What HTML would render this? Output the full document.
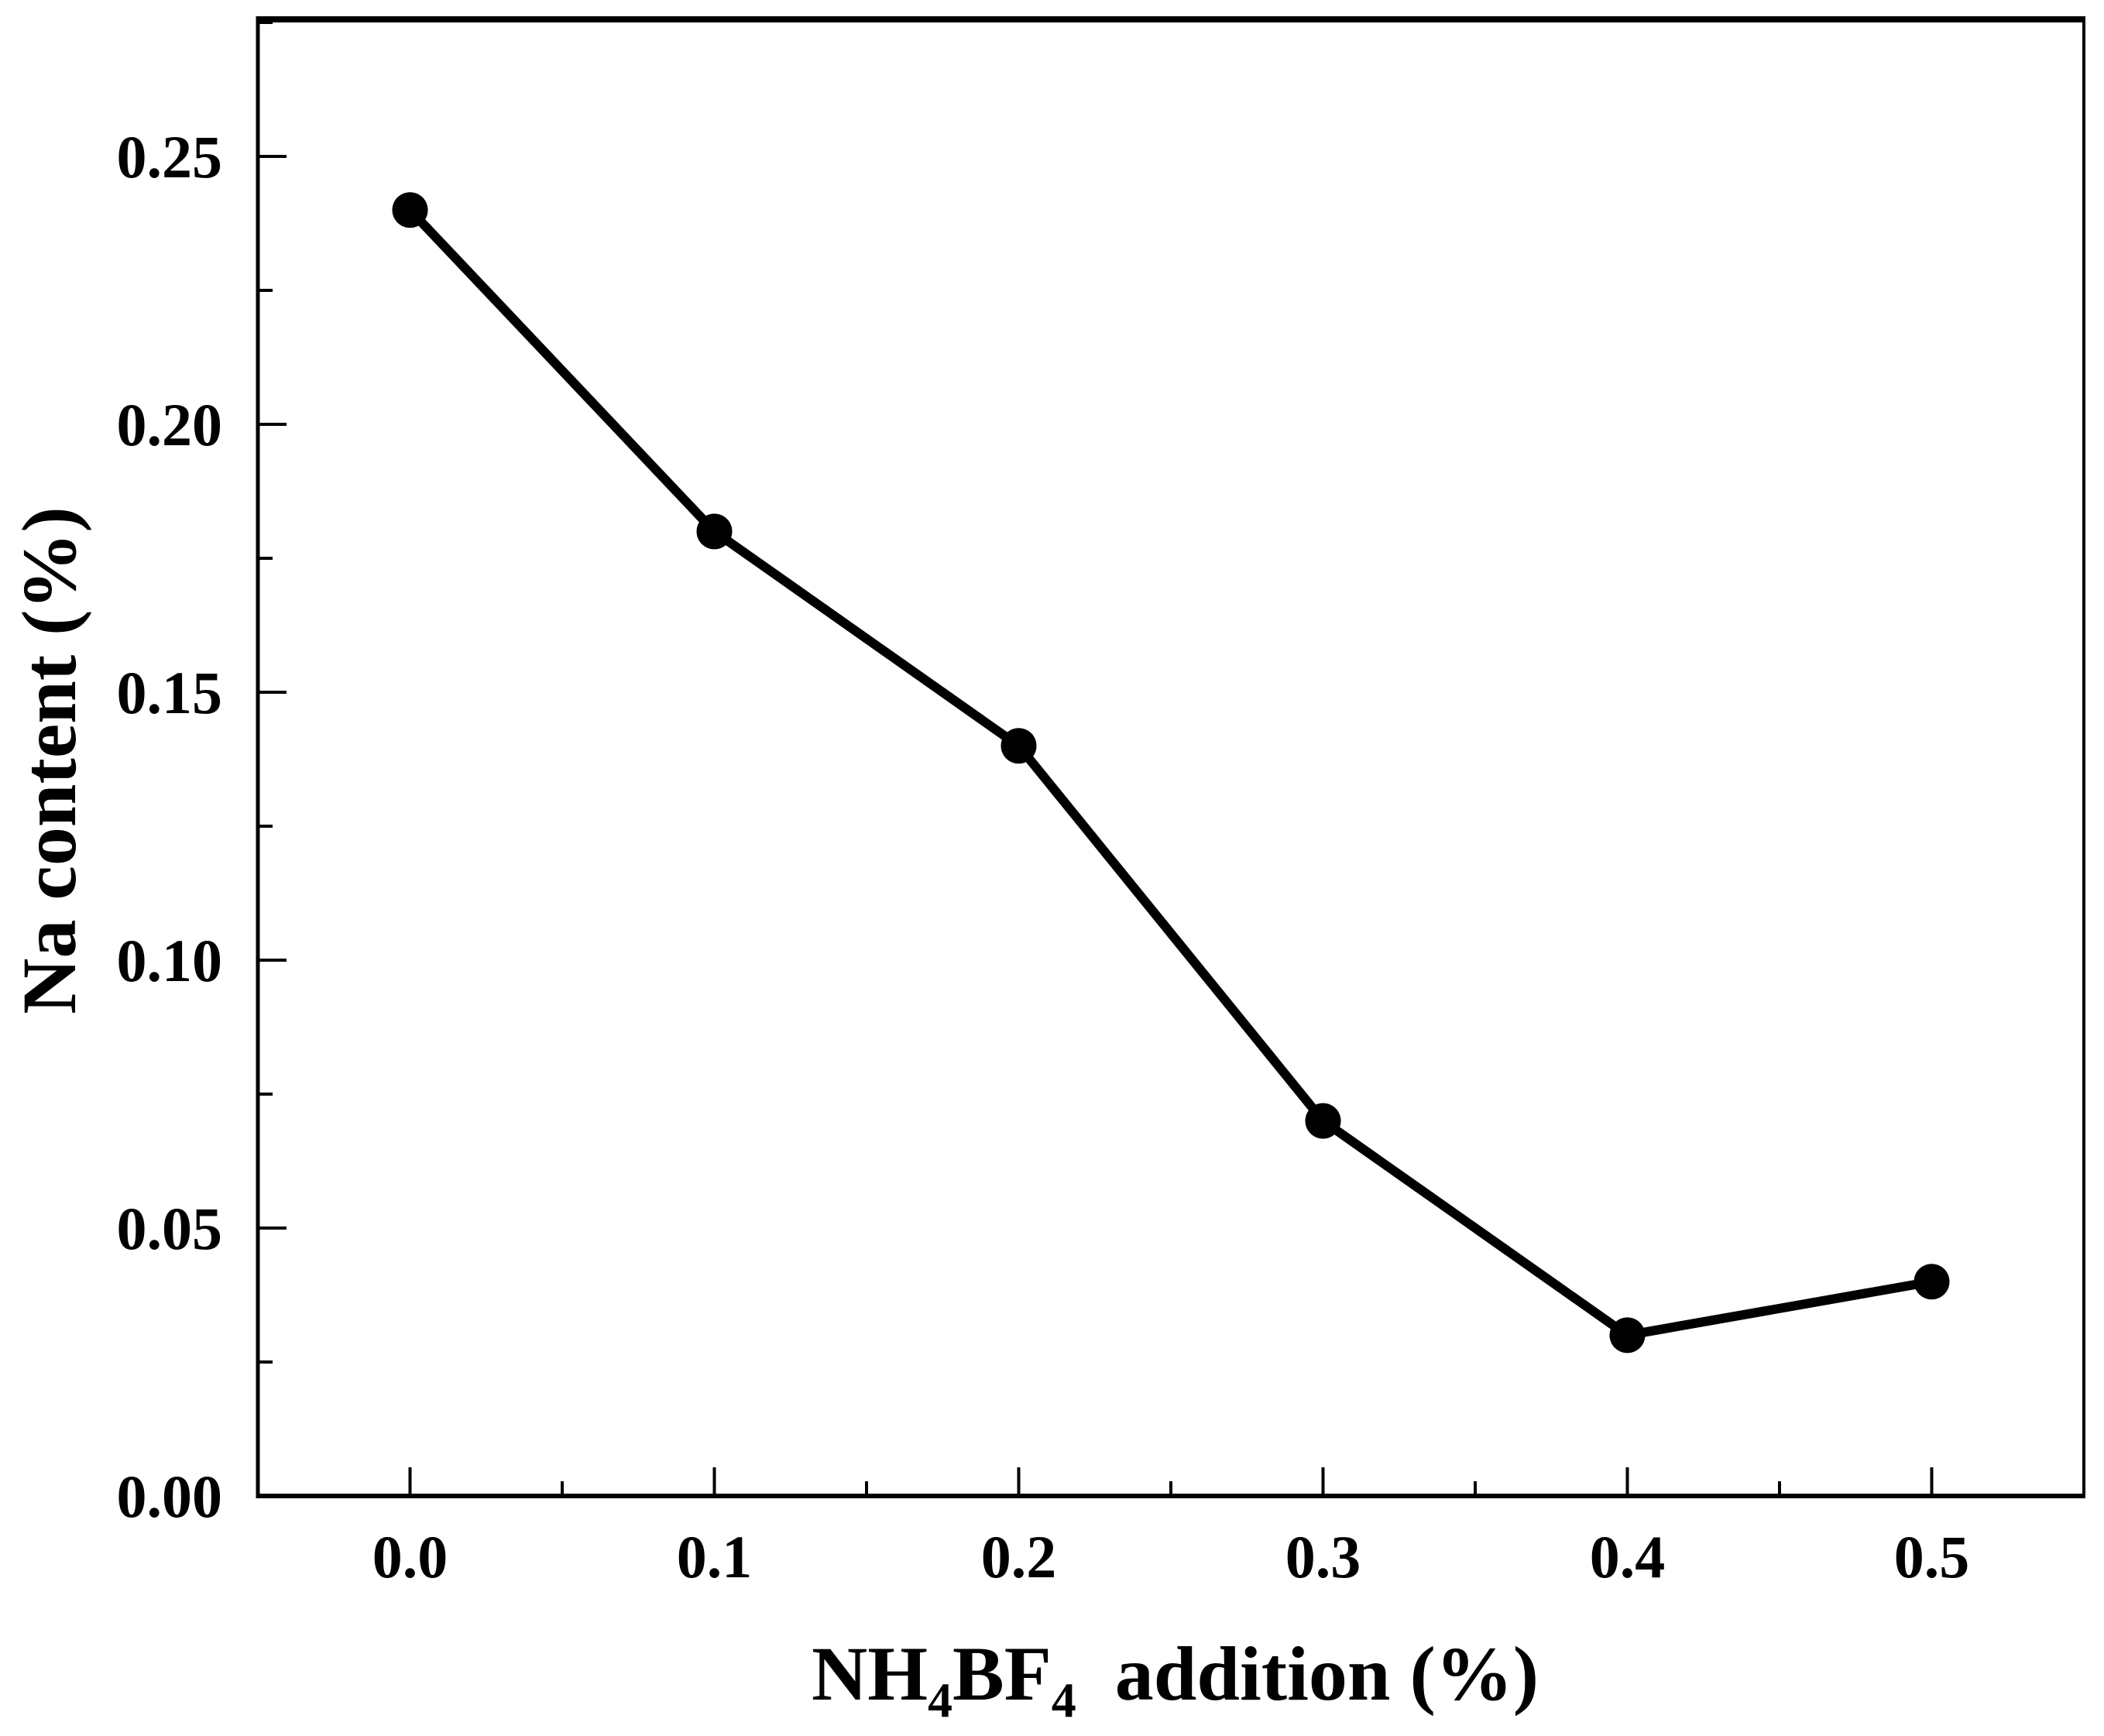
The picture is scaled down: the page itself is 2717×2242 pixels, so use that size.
<!DOCTYPE html>
<html><head><meta charset="utf-8"><style>
html,body{margin:0;padding:0;background:#fff;}
svg text{font-family:"Liberation Serif",serif;font-weight:bold;fill:#000;}
</style></head><body>
<svg width="2717" height="2237" viewBox="0 0 2717 2237">
<g id="axes"></g>
<g id="series"></g>
</svg>
<script>
const categories = [0.0, 0.1, 0.2, 0.3, 0.4, 0.5];
const naContent = [0.24, 0.18, 0.14, 0.07, 0.03, 0.04];
const xTickLabels = ["0.0", "0.1", "0.2", "0.3", "0.4", "0.5"];
const yTickLabels = ["0.00", "0.05", "0.10", "0.15", "0.20", "0.25"];
const xRange = [-0.05, 0.55];
const yRange = [0, 0.275];

const L = 333, R = 2691, T = 29, B = 1932;
const NS = "http://www.w3.org/2000/svg";
function xs(v){ return L + (v - xRange[0]) / (xRange[1] - xRange[0]) * (R - L); }
function ys(v){ return B - (v - yRange[0]) / (yRange[1] - yRange[0]) * (B - T); }
function mk(tag, attrs, parent){ const e = document.createElementNS(NS, tag); for (const k in attrs) e.setAttribute(k, attrs[k]); parent.appendChild(e); return e; }

const axes = document.getElementById('axes');
const series = document.getElementById('series');

let e;
e = mk('line', {x1:L, y1:B, x2:R, y2:B, stroke:'#000', 'stroke-width':6}, axes);
 
e = mk('line', {x1:L, y1:T-4, x2:R+2, y2:T-4, stroke:'#000', 'stroke-width':8}, axes);
 
e = mk('line', {x1:L, y1:T-8, x2:L, y2:B+3, stroke:'#000', 'stroke-width':5}, axes);
 
e = mk('line', {x1:R, y1:T-8, x2:R, y2:B+3, stroke:'#000', 'stroke-width':4}, axes);
 

xTickLabels.forEach((lab, i) => {
  const v = parseFloat(lab);
  const x = xs(v);
  const t = mk('line', {x1:x, y1:B, x2:x, y2:B-37, stroke:'#000', 'stroke-width':4}, axes);
  
  
  const tx = mk('text', {x:x, y:2037, 'font-size':78, 'text-anchor':'middle'}, axes);
  tx.textContent = lab;
  
  
  if (i < xTickLabels.length - 1) {
    const xm = xs(v + 0.05);
    const m = mk('line', {x1:xm, y1:B, x2:xm, y2:B-19, stroke:'#000', 'stroke-width':4}, axes);
    
    
  }
});
yTickLabels.forEach((lab, i) => {
  const v = parseFloat(lab);
  const y = ys(v);
  const t = mk('line', {x1:L, y1:y, x2:L+37, y2:y, stroke:'#000', 'stroke-width':4}, axes);
  
  
  const tx = mk('text', {x:287, y:y+27, 'font-size':78, 'text-anchor':'end'}, axes);
  tx.textContent = lab;
  
  
  const ym = ys(v + 0.025);
  const m = mk('line', {x1:L, y1:ym, x2:L+19, y2:ym, stroke:'#000', 'stroke-width':4}, axes);
  
  
});

const xt = mk('text', {x:1048, y:2195, 'font-size':100, style:'white-space:pre'}, axes);
xt.innerHTML = 'NH<tspan font-size="64" dy="22">4</tspan><tspan dy="-22">BF</tspan><tspan font-size="64" dy="22">4</tspan><tspan dy="-22">  addition (%)</tspan>';


const yt = mk('text', {x:0, y:0, 'font-size':100, 'text-anchor':'middle', transform:'translate(97,982) rotate(-90)'}, axes);
yt.textContent = 'Na content (%)';



const pts = categories.map((c, i) => xs(c) + ',' + ys(naContent[i])).join(' ');
const pl = mk('polyline', {points:pts, fill:'none', stroke:'#000', 'stroke-width':12, 'stroke-linejoin':'miter'}, series);


categories.forEach((c, i) => {
  const p = mk('circle', {cx:xs(c), cy:ys(naContent[i]), r:23, fill:'#000'}, series);
  
  
});
</script>
</body></html>
